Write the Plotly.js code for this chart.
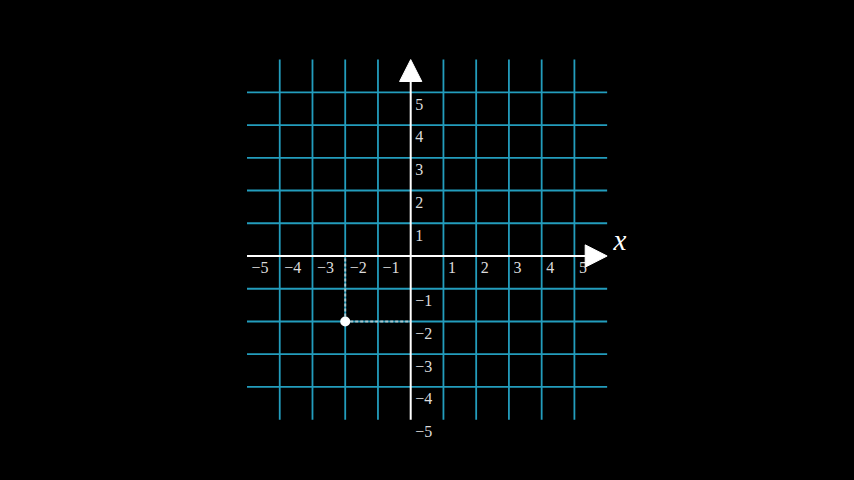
<!DOCTYPE html>
<html>
<head>
<meta charset="utf-8">
<script src="https://cdn.plot.ly/plotly-3.0.1.min.js"></script>
<style>html,body{margin:0;padding:0;background:#000;}#chart{width:854px;height:480px;}</style>
</head>
<body>
<div id="chart"></div>
<script>
// ---- data ----
const gridX = [-4, -3, -2, -1, 1, 2, 3, 4, 5];
const gridY = [-4, -3, -2, -1, 1, 2, 3, 4, 5];
const planeMin = -5;
const planeMax = 6;
const xTickVals = [-5, -4, -3, -2, -1, 1, 2, 3, 4, 5];
const xTickText = ['−5', '−4', '−3', '−2', '−1', '1', '2', '3', '4', '5'];
const yTickVals = [5, 4, 3, 2, 1, -1, -2, -3, -4, -5];
const yTickText = ['5', '4', '3', '2', '1', '−1', '−2', '−3', '−4', '−5'];
const pointX = [-2];
const pointY = [-2];
const axisLabel = 'x';

// ---- styles ----
const gridColor = '#239dbd';
const textColor = '#dcdcdc';
const tipLen = 0.67, tipHalf = 0.34;
const labelDX = 0.14, labelDY = -0.41;

const traces = [];
// vertical grid lines
let vx = [], vy = [];
gridX.forEach(g => { vx.push(g, g, null); vy.push(planeMin, planeMax, null); });
traces.push({x: vx, y: vy, mode: 'lines', line: {color: gridColor, width: 1.8}, hoverinfo: 'skip'});
// horizontal grid lines
let hx = [], hy = [];
gridY.forEach(g => { hx.push(planeMin, planeMax, null); hy.push(g, g, null); });
traces.push({x: hx, y: hy, mode: 'lines', line: {color: gridColor, width: 1.8}, hoverinfo: 'skip'});

// tick labels (text traces so arrows can sit on top)
traces.push({x: xTickVals.map(v => v + labelDX), y: xTickVals.map(() => labelDY), text: xTickText,
  mode: 'text', textposition: 'middle right', marker: {size: 1},
  textfont: {family: 'Liberation Serif, serif', size: 16, color: textColor}, hoverinfo: 'skip'});
traces.push({x: yTickVals.map(() => labelDX), y: yTickVals.map(v => v + labelDY), text: yTickText,
  mode: 'text', textposition: 'middle right', marker: {size: 1},
  textfont: {family: 'Liberation Serif, serif', size: 16, color: textColor}, hoverinfo: 'skip'});

// axes lines
traces.push({x: [planeMin, planeMax - tipLen + 0.02, null, 0, 0], y: [0, 0, null, planeMin, planeMax - tipLen + 0.02],
  mode: 'lines', line: {color: '#ffffff', width: 2}, hoverinfo: 'skip'});

// dashed projection lines
traces.push({x: [pointX[0], pointX[0], null, pointX[0], 0], y: [pointY[0], 0, null, pointY[0], pointY[0]],
  mode: 'lines', line: {color: 'rgba(215,215,215,0.75)', width: 2, dash: '3px,2px'}, hoverinfo: 'skip'});

// arrow tips
traces.push({x: [planeMax - tipLen, planeMax, planeMax - tipLen, planeMax - tipLen], y: [tipHalf, 0, -tipHalf, tipHalf],
  mode: 'lines', fill: 'toself', fillcolor: '#ffffff', line: {color: '#ffffff', width: 1}, hoverinfo: 'skip'});
traces.push({x: [-tipHalf, 0, tipHalf, -tipHalf], y: [planeMax - tipLen, planeMax, planeMax - tipLen, planeMax - tipLen],
  mode: 'lines', fill: 'toself', fillcolor: '#ffffff', line: {color: '#ffffff', width: 1}, hoverinfo: 'skip'});

// point
traces.push({x: pointX, y: pointY, mode: 'markers', marker: {color: '#ffffff', size: 10}, hoverinfo: 'skip'});

// axis label as text trace
traces.push({x: [6.39], y: [0.40], text: ['<i>' + axisLabel + '</i>'], mode: 'text', textposition: 'middle center',
  textfont: {family: 'Liberation Serif, serif', size: 29, color: '#ffffff'}, hoverinfo: 'skip'});

const unit = 32.74, ox = 410.7, oy = 256;
const layout = {
  width: 854, height: 480,
  margin: {l: 0, r: 0, t: 0, b: 0, pad: 0},
  paper_bgcolor: '#000000', plot_bgcolor: '#000000',
  showlegend: false,
  xaxis: {range: [-ox / unit, (854 - ox) / unit], visible: false, fixedrange: true},
  yaxis: {range: [(oy - 480) / unit, oy / unit], visible: false, fixedrange: true},
};
Plotly.newPlot('chart', traces, layout, {staticPlot: true, displayModeBar: false});
</script>
</body>
</html>
